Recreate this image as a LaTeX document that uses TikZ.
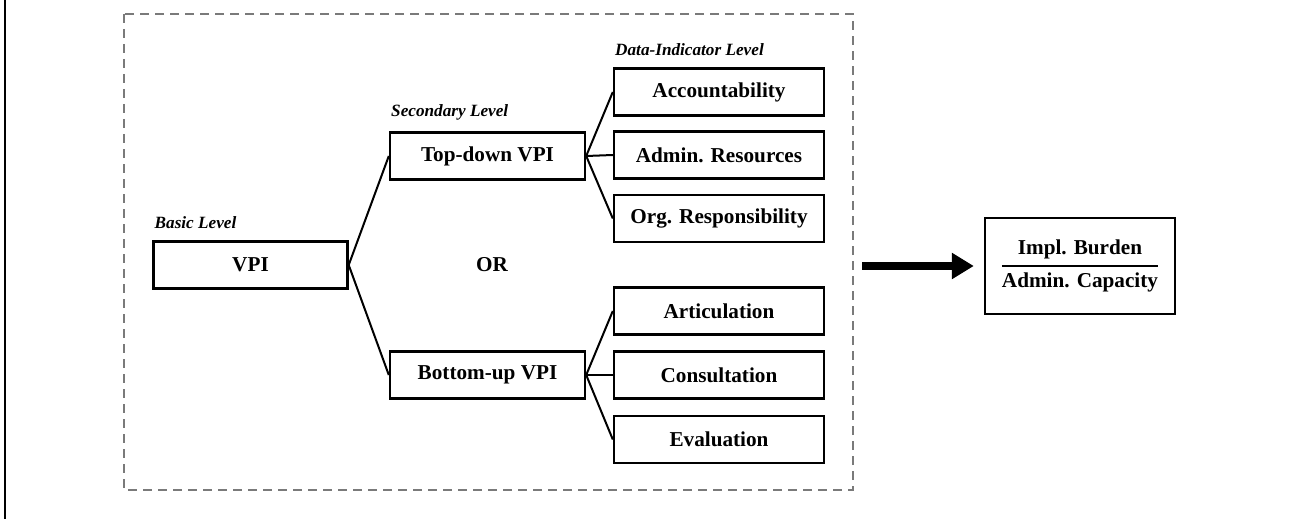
\documentclass[tikz,border=0pt]{standalone}
\usepackage{amsmath}
\usepackage{fontspec}
\setmainfont{Liberation Serif}
\usetikzlibrary{arrows.meta,positioning}

\tikzset{
  levelbox/.style={draw, line width=1.2pt, font=\bfseries\fontsize{10.6}{12}\selectfont, minimum height=23.5pt, inner sep=0pt},
  itembox/.style={levelbox, minimum width=105pt},
  levellabel/.style={font=\bfseries\itshape\fontsize{8.6}{10}\selectfont, inner sep=0pt, anchor=south west},
  branch/.style={line width=1pt},
  framebox/.style={draw=black!52, line width=1pt, dash pattern=on 4.5pt off 3pt},
  bigarrow/.style={line width=4pt, -{Triangle[length=11pt,width=12.5pt]}}
}

\begin{document}
\begin{tikzpicture}[x=0.5pt, y=-0.5pt]
    \useasboundingbox (0,0) rectangle (1295,519);

    % left rule and dashed frame
    \draw[line width=1.3pt] (5,0) -- (5,519);
    \draw[framebox] (124,14) rectangle (853,490);

    % basic level
    \node[levelbox, minimum width=97pt] (vpi) at (250.5,265) {VPI};
    \node[levellabel] (basiclbl) at ([xshift=1pt, yshift=5.5pt]vpi.north west) {Basic Level};

    % secondary level
    \node[levelbox, minimum width=97.5pt] (topdown) at (487.5,156) {Top-down VPI};
    \node[levelbox, minimum width=97.5pt] (bottomup) at (487.5,375) {Bottom-up VPI};
    \node[levellabel] (seclbl) at ([xshift=1pt, yshift=5.5pt]topdown.north west) {Secondary Level};
    \node[font=\bfseries\fontsize{10.6}{12}\selectfont] (orlbl) at (492,265) {OR};

    % data-indicator level
    \node[itembox] (acc) at (719,92) {Accountability};
    \node[itembox] (adm) at (719,155) {Admin. Resources};
    \node[itembox] (org) at (719,218.5) {Org. Responsibility};
    \node[itembox] (art) at (719,311) {Articulation};
    \node[itembox] (con) at (719,375) {Consultation};
    \node[itembox] (eva) at (719,439.5) {Evaluation};
    \node[levellabel] (datalbl) at ([xshift=1pt, yshift=5.5pt]acc.north west) {Data-Indicator Level};

    % branches
    \draw[branch] (vpi.east) -- (topdown.west);
    \draw[branch] (vpi.east) -- (bottomup.west);
    \foreach \c in {acc,adm,org}
        \draw[branch] (topdown.east) -- (\c.west);
    \foreach \c in {art,con,eva}
        \draw[branch] (bottomup.east) -- (\c.west);

    % result
    \node[levelbox, minimum width=95pt, minimum height=48pt] (result) at (1080,266)
        {$\genfrac{}{}{1pt}{0}{\text{Impl. Burden}}{\text{Admin. Capacity}}$};
    \coordinate (astart) at (862,266);
    \draw[bigarrow] (astart) -- ([xshift=-5pt]result.west);
\end{tikzpicture}
\end{document}
